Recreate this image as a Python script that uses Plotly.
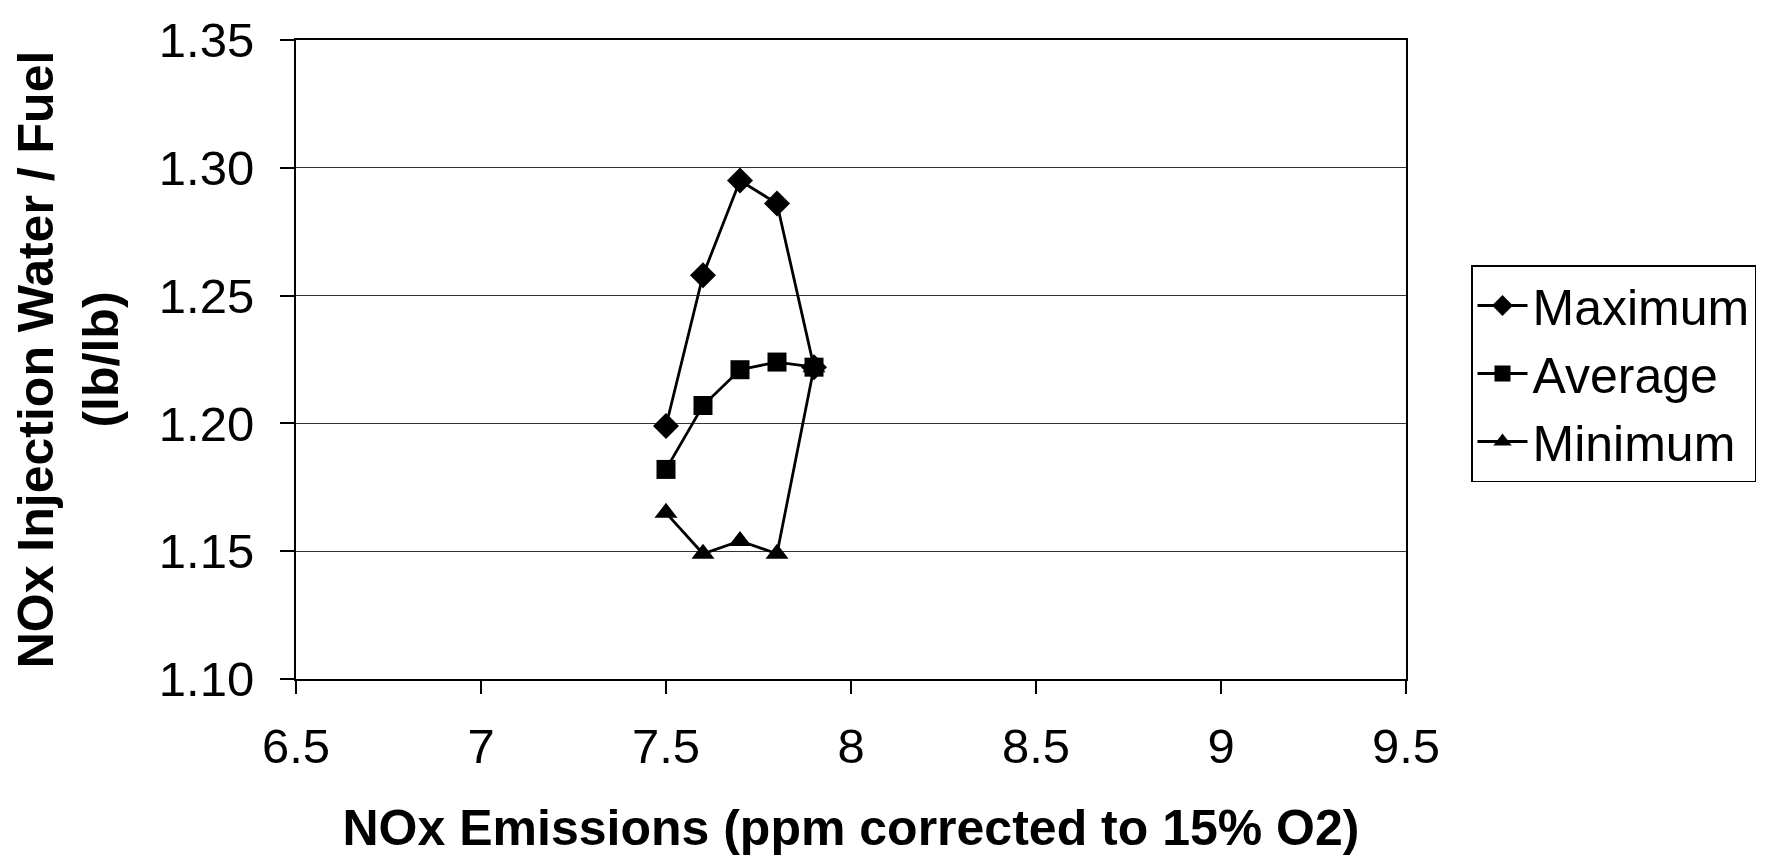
import plotly.graph_objects as go

x_vals = [7.5, 7.6, 7.7, 7.8, 7.9]
maximum = [1.199, 1.258, 1.295, 1.286, 1.222]
average = [1.182, 1.207, 1.221, 1.224, 1.222]
minimum = [1.165, 1.149, 1.154, 1.149, 1.222]

series_names = ["Maximum", "Average", "Minimum"]
y_ticks = [1.10, 1.15, 1.20, 1.25, 1.30, 1.35]
x_ticks = [6.5, 7, 7.5, 8, 8.5, 9, 9.5]

FONT = "Liberation Sans, Arial, sans-serif"

fig = go.Figure()
for name, ys, sym, size in [
    (series_names[0], maximum, "diamond", 20),
    (series_names[2], minimum, "triangle-up", 20),
    (series_names[1], average, "square", 19),
]:
    fig.add_trace(go.Scatter(
        x=x_vals, y=ys, name=name, mode="lines+markers",
        line=dict(color="black", width=2.8),
        marker=dict(symbol=sym, size=size, color="black"),
    ))

W, H = 1780, 863
L, R, T, B = 288, 382, 32, 192

fig.update_layout(
    width=W, height=H,
    margin=dict(l=L, r=R, t=T, b=B),
    paper_bgcolor="white", plot_bgcolor="white",
    font=dict(family=FONT, color="black", size=48),
    showlegend=True,
    legend=dict(
        x=(1463 - L) / (W - L - R), y=(H - B - 257) / (H - T - B),
        xanchor="left", yanchor="top",
        bordercolor="black", borderwidth=1.5, bgcolor="white",
        font=dict(size=50, family=FONT),
        traceorder="normal",
        itemwidth=50,
    ),
    xaxis=dict(
        range=[6.5, 9.5], tickvals=x_ticks, ticktext=[f"{v:g}" for v in x_ticks],
        showline=True, linecolor="black", linewidth=2, mirror=True,
        ticks="outside", ticklen=13, tickcolor="black", tickwidth=1.5,
        showgrid=False, zeroline=False,
        tickfont=dict(size=49, family=FONT),
        ticklabelstandoff=10,
        title=dict(text="<b>NOx Emissions (ppm corrected to 15% O2)</b>",
                   font=dict(size=50, family=FONT), standoff=38),
        automargin=False,
    ),
    yaxis=dict(
        range=[1.10, 1.35], tickvals=y_ticks, ticktext=[f"{v:.2f}" for v in y_ticks],
        showline=True, linecolor="black", linewidth=2, mirror=True,
        ticks="outside", ticklen=14, tickcolor="black", tickwidth=1.5,
        showgrid=True, gridcolor="#333333", gridwidth=1,
        zeroline=False,
        tickfont=dict(size=49, family=FONT),
        ticklabelstandoff=16,
        title=dict(text="<b>NOx Injection Water / Fuel<br>(lb/lb)</b>",
                   font=dict(size=50, family=FONT), standoff=36),
        automargin=False,
    ),
)

# keep legend order Maximum, Average, Minimum while drawing Average on top
order = {"Maximum": 1, "Average": 2, "Minimum": 3}
for tr in fig.data:
    tr.legendrank = order[tr.name]

fig.write_html("out.html")
